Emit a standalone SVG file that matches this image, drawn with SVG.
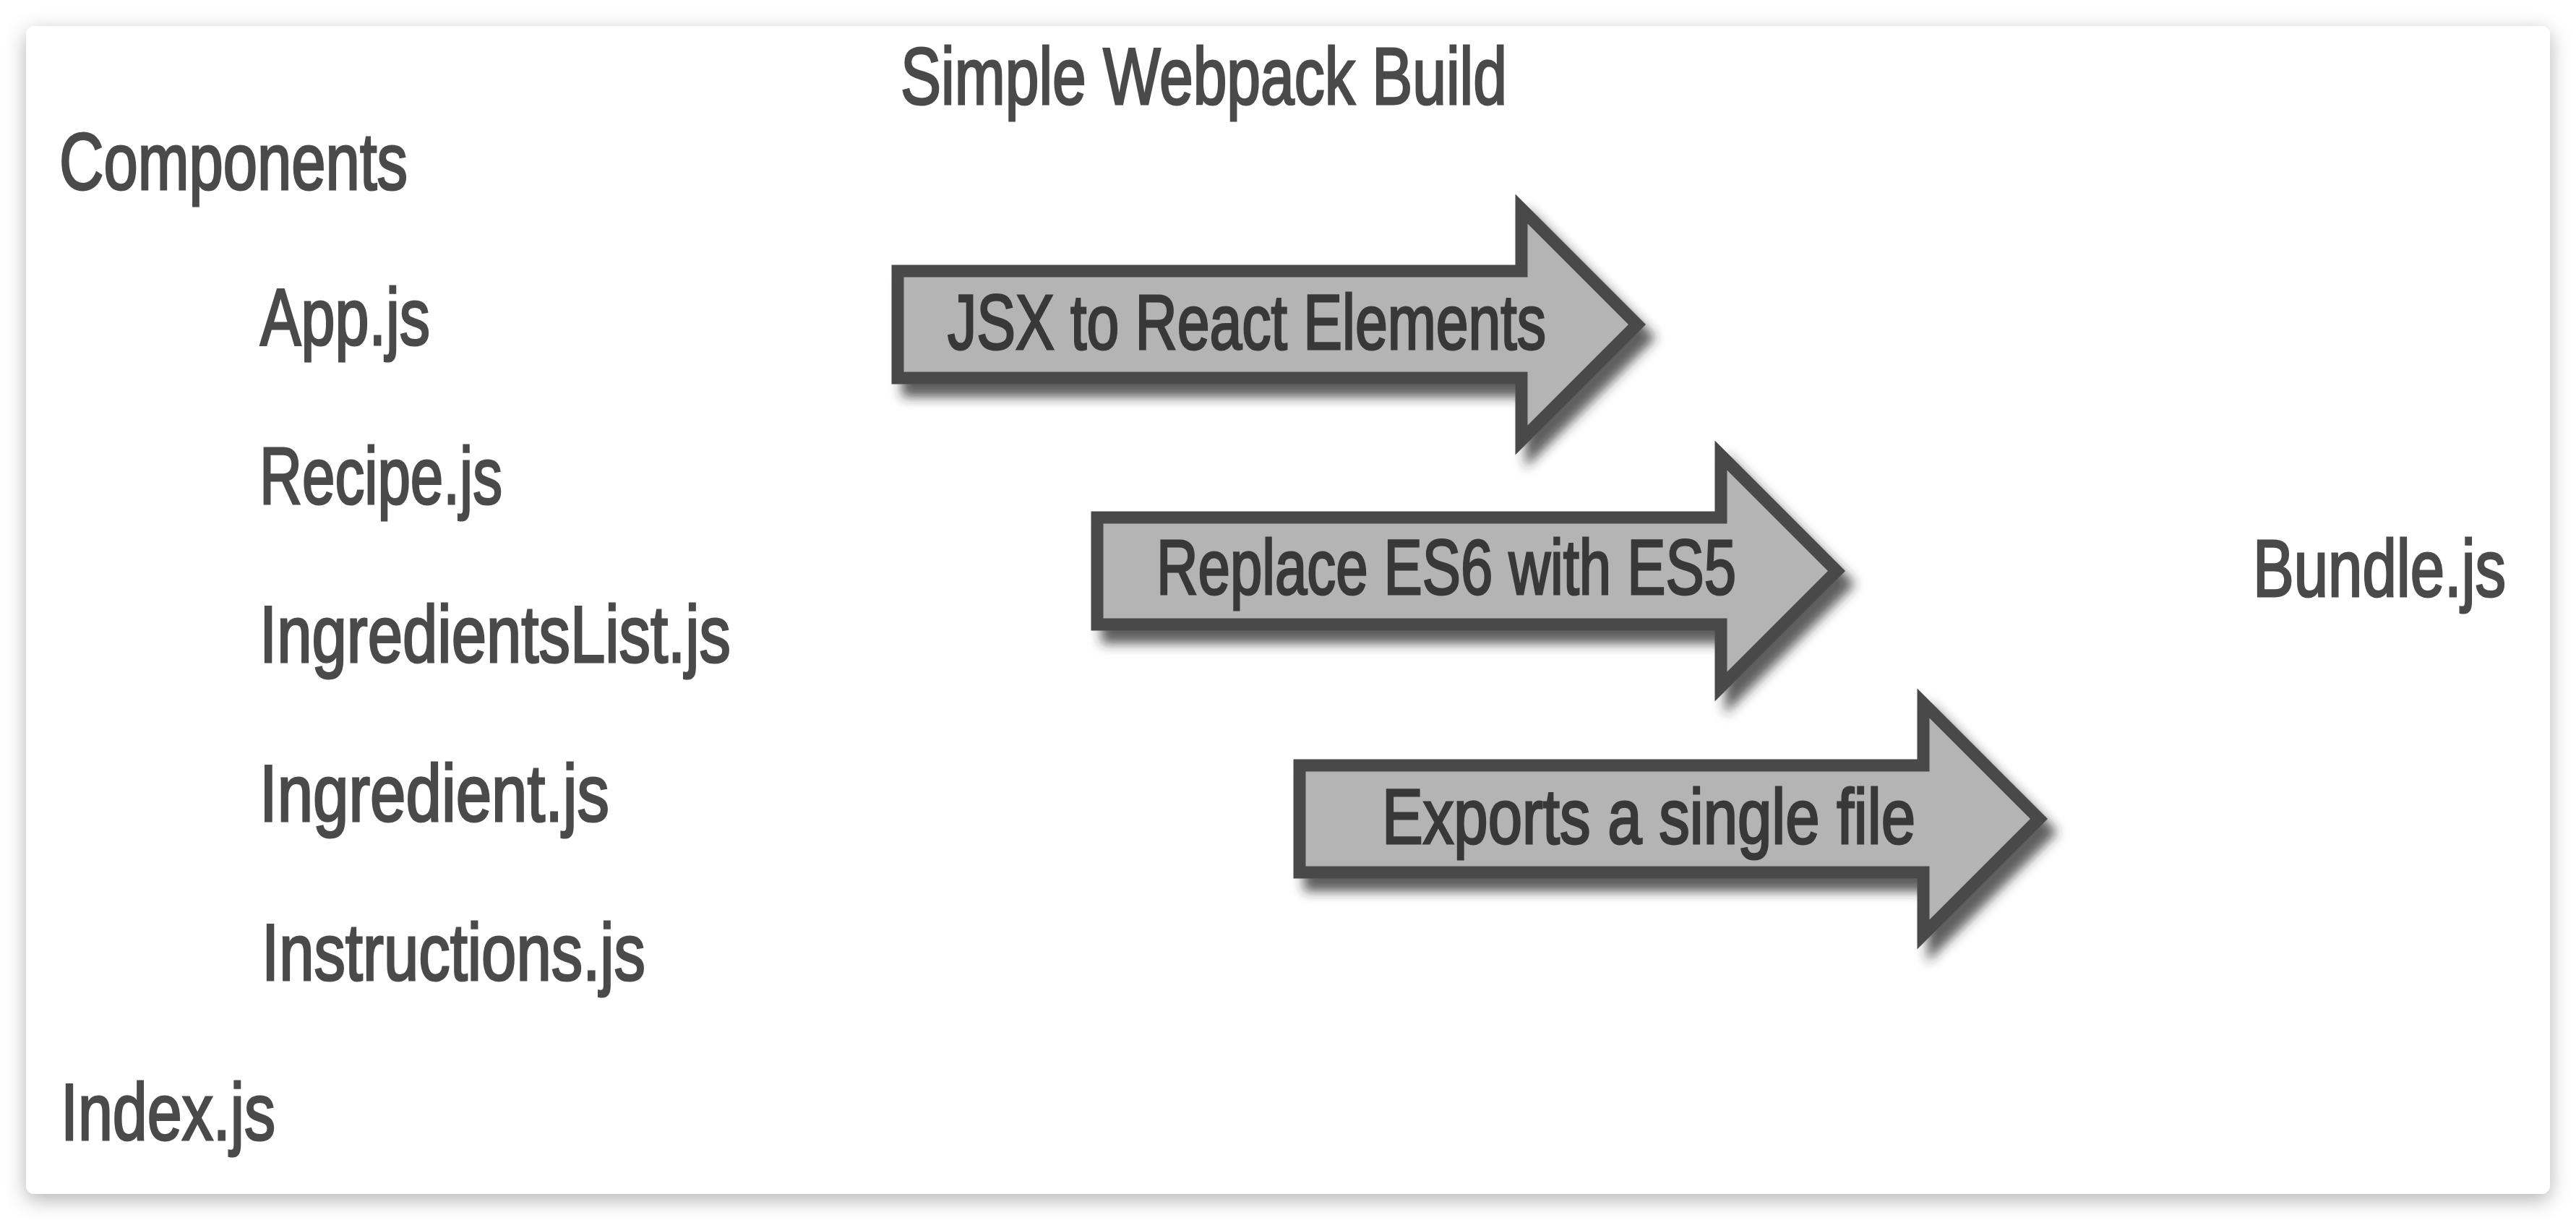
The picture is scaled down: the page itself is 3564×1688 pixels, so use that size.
<svg xmlns="http://www.w3.org/2000/svg" xmlns:xlink="http://www.w3.org/1999/xlink" width="3564" height="1688" viewBox="0 0 3564 1688">
  <style>
    .lbl { font-family: "Liberation Sans", Arial, sans-serif; font-size: 112px; fill: #4a4a4a; stroke: #4a4a4a; stroke-width: 3; }
    .atxt { font-family: "Liberation Sans", Arial, sans-serif; font-size: 108px; fill: #383838; stroke: #383838; stroke-width: 3; }
    .arrow { fill: #b4b4b4; stroke: #4a4a4a; stroke-width: 17; stroke-linejoin: miter; stroke-miterlimit: 10; }
  </style>
  <defs>
    <filter id="cardShadow" x="-5%" y="-5%" width="110%" height="110%">
      <feDropShadow dx="0" dy="8" stdDeviation="14" flood-color="#000" flood-opacity="0.3"/>
    </filter>
    <filter id="arrowShadow" x="-5%" y="-10%" width="115%" height="130%">
      <feDropShadow dx="14" dy="18" stdDeviation="8" flood-color="#2a2a2a" flood-opacity="0.75"/>
    </filter>
    <path id="arrowShape" d="M0,-74 H863 V-160 L1023,0 L863,160 V74 H0 Z"/>
  </defs>

  <rect x="0" y="0" width="3564" height="1688" fill="#ffffff"/>
  <rect id="card" x="36" y="36" width="3492" height="1616" rx="12" ry="12" fill="#ffffff" filter="url(#cardShadow)"/>

  <g id="title">
    <text class="lbl" x="1246" y="144" textLength="839" lengthAdjust="spacingAndGlyphs">Simple Webpack Build</text>
  </g>

  <g id="components">
    <text class="lbl" x="82" y="262" textLength="482" lengthAdjust="spacingAndGlyphs">Components</text>
  </g>
  <g id="app">
    <text class="lbl" x="360" y="477" textLength="235" lengthAdjust="spacingAndGlyphs">App.js</text>
  </g>
  <g id="recipe">
    <text class="lbl" x="359" y="697" textLength="336" lengthAdjust="spacingAndGlyphs">Recipe.js</text>
  </g>
  <g id="ingredientsList">
    <text class="lbl" x="359" y="916" textLength="652" lengthAdjust="spacingAndGlyphs">IngredientsList.js</text>
  </g>
  <g id="ingredient">
    <text class="lbl" x="359" y="1136" textLength="484" lengthAdjust="spacingAndGlyphs">Ingredient.js</text>
  </g>
  <g id="instructions">
    <text class="lbl" x="362" y="1356" textLength="531" lengthAdjust="spacingAndGlyphs">Instructions.js</text>
  </g>
  <g id="index">
    <text class="lbl" x="84" y="1577" textLength="297" lengthAdjust="spacingAndGlyphs">Index.js</text>
  </g>
  <g id="bundle">
    <text class="lbl" x="0" y="0" transform="translate(3117,825) scale(0.76,1)">Bundle.js</text>
  </g>

  <g id="connectors">
    <g id="arrow-jsx" filter="url(#arrowShadow)">
      <use xlink:href="#arrowShape" href="#arrowShape" class="arrow" transform="translate(1242,449)"/>
      <text class="atxt" x="1311" y="483" textLength="828" lengthAdjust="spacingAndGlyphs">JSX to React Elements</text>
    </g>
    <g id="arrow-es6" filter="url(#arrowShadow)">
      <use xlink:href="#arrowShape" href="#arrowShape" class="arrow" transform="translate(1518,790)"/>
      <text class="atxt" x="1600" y="822" textLength="802" lengthAdjust="spacingAndGlyphs">Replace ES6 with ES5</text>
    </g>
    <g id="arrow-export" filter="url(#arrowShadow)">
      <use xlink:href="#arrowShape" href="#arrowShape" class="arrow" transform="translate(1798,1133)"/>
      <text class="atxt" x="1912" y="1167" textLength="738" lengthAdjust="spacingAndGlyphs">Exports a single file</text>
    </g>
  </g>
</svg>
